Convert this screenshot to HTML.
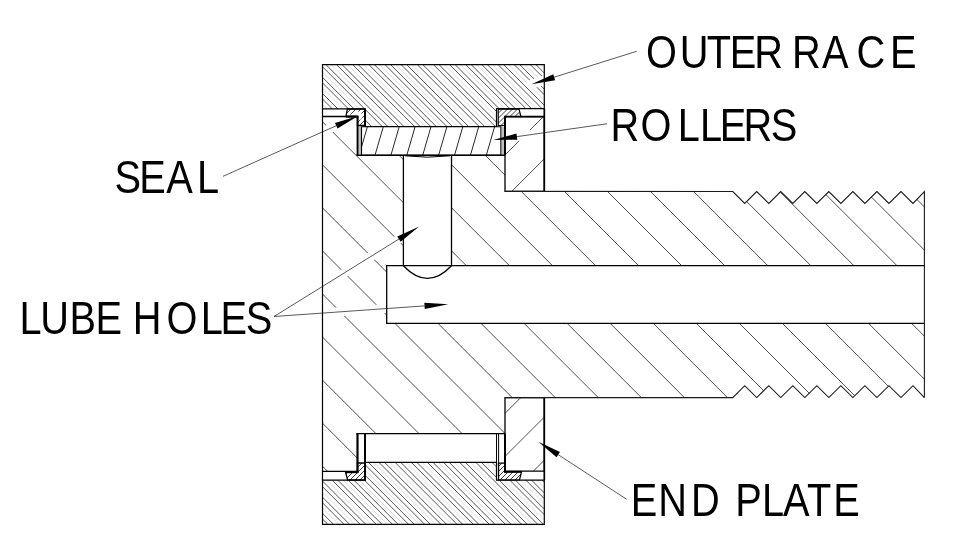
<!DOCTYPE html>
<html><head><meta charset="utf-8"><title>Cam follower section</title>
<style>html,body{margin:0;padding:0;background:#fff}svg{display:block}</style></head>
<body>
<svg width="960" height="554" viewBox="0 0 960 554">
<defs>
<clipPath id="c_race_t"><path d="M322.50,64.70 L544.30,64.70 L544.30,108.70 L496.50,108.70 L496.50,126.50 L365.00,126.50 L365.00,108.90 L322.50,108.90 Z"/></clipPath>
<clipPath id="c_race_b"><path d="M322.50,524.30 L544.30,524.30 L544.30,480.20 L496.50,480.20 L496.50,462.30 L365.00,462.30 L365.00,480.20 L322.50,480.20 Z"/></clipPath>
<clipPath id="c_plate_t"><path d="M505.00,116.60 L544.30,116.60 L544.30,191.30 L505.00,191.30 Z"/></clipPath>
<clipPath id="c_plate_b"><path d="M505.00,397.60 L544.30,397.60 L544.30,471.20 L505.00,471.20 Z"/></clipPath>
<clipPath id="c_roller"><path d="M361.50,126.70 L500.90,126.70 L500.90,155.30 L361.50,155.30 Z"/></clipPath>
<clipPath id="c_seal_tl"><path d="M347.40,109.00 L365.00,109.00 L365.00,125.50 L357.50,125.50 L357.50,116.50 L345.90,116.50 Z"/></clipPath>
<clipPath id="c_seal_tr"><path d="M498.20,109.20 L519.00,109.20 L520.90,116.50 L505.00,116.50 L505.00,125.50 L498.20,125.50 Z"/></clipPath>
<clipPath id="c_seal_bl"><path d="M347.60,480.00 L365.00,480.00 L365.00,463.00 L357.50,463.00 L357.50,472.00 L345.50,472.00 Z"/></clipPath>
<clipPath id="c_seal_br"><path d="M498.50,480.00 L519.50,480.00 L521.50,472.00 L505.00,472.00 L505.00,463.20 L498.50,463.20 Z"/></clipPath>
<clipPath id="c_stud"><path d="M322.50,116.50 L357.50,116.50 L357.50,155.30 L403.40,155.30 L403.40,265.70 L386.70,265.70 L386.70,323.40 L924.40,323.40 L924.40,397.60 L912.98,385.70 L900.94,397.60 L888.94,385.70 L876.90,397.60 L864.90,385.70 L852.86,397.60 L840.86,385.70 L828.82,397.60 L816.82,385.70 L804.78,397.60 L792.78,385.70 L780.74,397.60 L768.74,385.70 L756.70,397.60 L744.70,385.70 L732.80,397.60 L505.00,397.60 L505.00,433.60 L357.50,433.60 L357.50,471.30 L322.50,471.30 Z M451.50,155.30 L505.00,155.30 L505.00,191.30 L732.80,191.50 L744.70,203.40 L756.70,191.50 L768.74,203.40 L780.74,191.50 L792.78,203.40 L804.78,191.50 L816.82,203.40 L828.82,191.50 L840.86,203.40 L852.86,191.50 L864.90,203.40 L876.90,191.50 L888.94,203.40 L900.94,191.50 L912.98,203.40 L924.40,191.50 L924.40,265.70 L451.50,265.70 Z"/></clipPath>
</defs>
<rect width="960" height="554" fill="#fff"/>
<g clip-path="url(#c_race_t)" stroke="#2a2a2a" stroke-width="0.8">
<line x1="320" y1="220.20" x2="550" y2="450.20"/>
<line x1="320" y1="209.60" x2="550" y2="439.60"/>
<line x1="320" y1="204.05" x2="550" y2="434.05"/>
<line x1="320" y1="193.45" x2="550" y2="423.45"/>
<line x1="320" y1="187.90" x2="550" y2="417.90"/>
<line x1="320" y1="177.30" x2="550" y2="407.30"/>
<line x1="320" y1="171.75" x2="550" y2="401.75"/>
<line x1="320" y1="161.15" x2="550" y2="391.15"/>
<line x1="320" y1="155.60" x2="550" y2="385.60"/>
<line x1="320" y1="145.00" x2="550" y2="375.00"/>
<line x1="320" y1="139.45" x2="550" y2="369.45"/>
<line x1="320" y1="128.85" x2="550" y2="358.85"/>
<line x1="320" y1="123.30" x2="550" y2="353.30"/>
<line x1="320" y1="112.70" x2="550" y2="342.70"/>
<line x1="320" y1="107.15" x2="550" y2="337.15"/>
<line x1="320" y1="96.55" x2="550" y2="326.55"/>
<line x1="320" y1="91.00" x2="550" y2="321.00"/>
<line x1="320" y1="80.40" x2="550" y2="310.40"/>
<line x1="320" y1="74.85" x2="550" y2="304.85"/>
<line x1="320" y1="64.25" x2="550" y2="294.25"/>
<line x1="320" y1="58.70" x2="550" y2="288.70"/>
<line x1="320" y1="48.10" x2="550" y2="278.10"/>
<line x1="320" y1="42.55" x2="550" y2="272.55"/>
<line x1="320" y1="31.95" x2="550" y2="261.95"/>
<line x1="320" y1="26.40" x2="550" y2="256.40"/>
<line x1="320" y1="15.80" x2="550" y2="245.80"/>
<line x1="320" y1="10.25" x2="550" y2="240.25"/>
<line x1="320" y1="-0.35" x2="550" y2="229.65"/>
<line x1="320" y1="-5.90" x2="550" y2="224.10"/>
<line x1="320" y1="-16.50" x2="550" y2="213.50"/>
<line x1="320" y1="-22.05" x2="550" y2="207.95"/>
<line x1="320" y1="-32.65" x2="550" y2="197.35"/>
<line x1="320" y1="-38.20" x2="550" y2="191.80"/>
<line x1="320" y1="-48.80" x2="550" y2="181.20"/>
<line x1="320" y1="-54.35" x2="550" y2="175.65"/>
<line x1="320" y1="-64.95" x2="550" y2="165.05"/>
<line x1="320" y1="-70.50" x2="550" y2="159.50"/>
<line x1="320" y1="-81.10" x2="550" y2="148.90"/>
<line x1="320" y1="-86.65" x2="550" y2="143.35"/>
<line x1="320" y1="-97.25" x2="550" y2="132.75"/>
<line x1="320" y1="-102.80" x2="550" y2="127.20"/>
<line x1="320" y1="-113.40" x2="550" y2="116.60"/>
<line x1="320" y1="-118.95" x2="550" y2="111.05"/>
<line x1="320" y1="-129.55" x2="550" y2="100.45"/>
<line x1="320" y1="-135.10" x2="550" y2="94.90"/>
<line x1="320" y1="-145.70" x2="550" y2="84.30"/>
<line x1="320" y1="-151.25" x2="550" y2="78.75"/>
<line x1="320" y1="-161.85" x2="550" y2="68.15"/>
<line x1="320" y1="-167.40" x2="550" y2="62.60"/>
<line x1="320" y1="-178.00" x2="550" y2="52.00"/>
<line x1="320" y1="-183.55" x2="550" y2="46.45"/>
<line x1="320" y1="-194.15" x2="550" y2="35.85"/>
<line x1="320" y1="-199.70" x2="550" y2="30.30"/>
<line x1="320" y1="-210.30" x2="550" y2="19.70"/>
<line x1="320" y1="-215.85" x2="550" y2="14.15"/>
<line x1="320" y1="-226.45" x2="550" y2="3.55"/>
<line x1="320" y1="-232.00" x2="550" y2="-2.00"/>
<line x1="320" y1="-242.60" x2="550" y2="-12.60"/>
<line x1="320" y1="-248.15" x2="550" y2="-18.15"/>
<line x1="320" y1="-258.75" x2="550" y2="-28.75"/>
<line x1="320" y1="-264.30" x2="550" y2="-34.30"/>
<line x1="320" y1="-274.90" x2="550" y2="-44.90"/>
<line x1="320" y1="-280.45" x2="550" y2="-50.45"/>
<line x1="320" y1="-291.05" x2="550" y2="-61.05"/>
<line x1="320" y1="-296.60" x2="550" y2="-66.60"/>
<line x1="320" y1="-307.20" x2="550" y2="-77.20"/>
<line x1="320" y1="-312.75" x2="550" y2="-82.75"/>
<line x1="320" y1="-323.35" x2="550" y2="-93.35"/>
<line x1="320" y1="-328.90" x2="550" y2="-98.90"/>
<line x1="320" y1="-339.50" x2="550" y2="-109.50"/>
<line x1="320" y1="-345.05" x2="550" y2="-115.05"/>
<line x1="320" y1="-355.65" x2="550" y2="-125.65"/>
<line x1="320" y1="-361.20" x2="550" y2="-131.20"/>
<line x1="320" y1="-371.80" x2="550" y2="-141.80"/>
<line x1="320" y1="-377.35" x2="550" y2="-147.35"/>
<line x1="320" y1="-387.95" x2="550" y2="-157.95"/>
<line x1="320" y1="-393.50" x2="550" y2="-163.50"/>
<line x1="320" y1="-404.10" x2="550" y2="-174.10"/>
<line x1="320" y1="-409.65" x2="550" y2="-179.65"/>
<line x1="320" y1="-420.25" x2="550" y2="-190.25"/>
</g>
<g clip-path="url(#c_race_t)" stroke="#c8c8c8" stroke-width="0.6">
<line x1="320" y1="214.90" x2="550" y2="444.90"/>
<line x1="320" y1="198.75" x2="550" y2="428.75"/>
<line x1="320" y1="182.60" x2="550" y2="412.60"/>
<line x1="320" y1="166.45" x2="550" y2="396.45"/>
<line x1="320" y1="150.30" x2="550" y2="380.30"/>
<line x1="320" y1="134.15" x2="550" y2="364.15"/>
<line x1="320" y1="118.00" x2="550" y2="348.00"/>
<line x1="320" y1="101.85" x2="550" y2="331.85"/>
<line x1="320" y1="85.70" x2="550" y2="315.70"/>
<line x1="320" y1="69.55" x2="550" y2="299.55"/>
<line x1="320" y1="53.40" x2="550" y2="283.40"/>
<line x1="320" y1="37.25" x2="550" y2="267.25"/>
<line x1="320" y1="21.10" x2="550" y2="251.10"/>
<line x1="320" y1="4.95" x2="550" y2="234.95"/>
<line x1="320" y1="-11.20" x2="550" y2="218.80"/>
<line x1="320" y1="-27.35" x2="550" y2="202.65"/>
<line x1="320" y1="-43.50" x2="550" y2="186.50"/>
<line x1="320" y1="-59.65" x2="550" y2="170.35"/>
<line x1="320" y1="-75.80" x2="550" y2="154.20"/>
<line x1="320" y1="-91.95" x2="550" y2="138.05"/>
<line x1="320" y1="-108.10" x2="550" y2="121.90"/>
<line x1="320" y1="-124.25" x2="550" y2="105.75"/>
<line x1="320" y1="-140.40" x2="550" y2="89.60"/>
<line x1="320" y1="-156.55" x2="550" y2="73.45"/>
<line x1="320" y1="-172.70" x2="550" y2="57.30"/>
<line x1="320" y1="-188.85" x2="550" y2="41.15"/>
<line x1="320" y1="-205.00" x2="550" y2="25.00"/>
<line x1="320" y1="-221.15" x2="550" y2="8.85"/>
<line x1="320" y1="-237.30" x2="550" y2="-7.30"/>
<line x1="320" y1="-253.45" x2="550" y2="-23.45"/>
<line x1="320" y1="-269.60" x2="550" y2="-39.60"/>
<line x1="320" y1="-285.75" x2="550" y2="-55.75"/>
<line x1="320" y1="-301.90" x2="550" y2="-71.90"/>
<line x1="320" y1="-318.05" x2="550" y2="-88.05"/>
<line x1="320" y1="-334.20" x2="550" y2="-104.20"/>
<line x1="320" y1="-350.35" x2="550" y2="-120.35"/>
<line x1="320" y1="-366.50" x2="550" y2="-136.50"/>
<line x1="320" y1="-382.65" x2="550" y2="-152.65"/>
<line x1="320" y1="-398.80" x2="550" y2="-168.80"/>
<line x1="320" y1="-414.95" x2="550" y2="-184.95"/>
</g>
<g clip-path="url(#c_race_b)" stroke="#2a2a2a" stroke-width="0.8">
<line x1="320" y1="559.30" x2="550" y2="789.30"/>
<line x1="320" y1="548.80" x2="550" y2="778.80"/>
<line x1="320" y1="543.15" x2="550" y2="773.15"/>
<line x1="320" y1="532.65" x2="550" y2="762.65"/>
<line x1="320" y1="527.00" x2="550" y2="757.00"/>
<line x1="320" y1="516.50" x2="550" y2="746.50"/>
<line x1="320" y1="510.85" x2="550" y2="740.85"/>
<line x1="320" y1="500.35" x2="550" y2="730.35"/>
<line x1="320" y1="494.70" x2="550" y2="724.70"/>
<line x1="320" y1="484.20" x2="550" y2="714.20"/>
<line x1="320" y1="478.55" x2="550" y2="708.55"/>
<line x1="320" y1="468.05" x2="550" y2="698.05"/>
<line x1="320" y1="462.40" x2="550" y2="692.40"/>
<line x1="320" y1="451.90" x2="550" y2="681.90"/>
<line x1="320" y1="446.25" x2="550" y2="676.25"/>
<line x1="320" y1="435.75" x2="550" y2="665.75"/>
<line x1="320" y1="430.10" x2="550" y2="660.10"/>
<line x1="320" y1="419.60" x2="550" y2="649.60"/>
<line x1="320" y1="413.95" x2="550" y2="643.95"/>
<line x1="320" y1="403.45" x2="550" y2="633.45"/>
<line x1="320" y1="397.80" x2="550" y2="627.80"/>
<line x1="320" y1="387.30" x2="550" y2="617.30"/>
<line x1="320" y1="381.65" x2="550" y2="611.65"/>
<line x1="320" y1="371.15" x2="550" y2="601.15"/>
<line x1="320" y1="365.50" x2="550" y2="595.50"/>
<line x1="320" y1="355.00" x2="550" y2="585.00"/>
<line x1="320" y1="349.35" x2="550" y2="579.35"/>
<line x1="320" y1="338.85" x2="550" y2="568.85"/>
<line x1="320" y1="333.20" x2="550" y2="563.20"/>
<line x1="320" y1="322.70" x2="550" y2="552.70"/>
<line x1="320" y1="317.05" x2="550" y2="547.05"/>
<line x1="320" y1="306.55" x2="550" y2="536.55"/>
<line x1="320" y1="300.90" x2="550" y2="530.90"/>
<line x1="320" y1="290.40" x2="550" y2="520.40"/>
<line x1="320" y1="284.75" x2="550" y2="514.75"/>
<line x1="320" y1="274.25" x2="550" y2="504.25"/>
<line x1="320" y1="268.60" x2="550" y2="498.60"/>
<line x1="320" y1="258.10" x2="550" y2="488.10"/>
<line x1="320" y1="252.45" x2="550" y2="482.45"/>
<line x1="320" y1="241.95" x2="550" y2="471.95"/>
<line x1="320" y1="236.30" x2="550" y2="466.30"/>
<line x1="320" y1="225.80" x2="550" y2="455.80"/>
<line x1="320" y1="220.15" x2="550" y2="450.15"/>
<line x1="320" y1="209.65" x2="550" y2="439.65"/>
<line x1="320" y1="204.00" x2="550" y2="434.00"/>
<line x1="320" y1="193.50" x2="550" y2="423.50"/>
<line x1="320" y1="187.85" x2="550" y2="417.85"/>
<line x1="320" y1="177.35" x2="550" y2="407.35"/>
<line x1="320" y1="171.70" x2="550" y2="401.70"/>
<line x1="320" y1="161.20" x2="550" y2="391.20"/>
<line x1="320" y1="155.55" x2="550" y2="385.55"/>
<line x1="320" y1="145.05" x2="550" y2="375.05"/>
<line x1="320" y1="139.40" x2="550" y2="369.40"/>
<line x1="320" y1="128.90" x2="550" y2="358.90"/>
<line x1="320" y1="123.25" x2="550" y2="353.25"/>
<line x1="320" y1="112.75" x2="550" y2="342.75"/>
<line x1="320" y1="107.10" x2="550" y2="337.10"/>
<line x1="320" y1="96.60" x2="550" y2="326.60"/>
<line x1="320" y1="90.95" x2="550" y2="320.95"/>
<line x1="320" y1="80.45" x2="550" y2="310.45"/>
<line x1="320" y1="74.80" x2="550" y2="304.80"/>
<line x1="320" y1="64.30" x2="550" y2="294.30"/>
<line x1="320" y1="58.65" x2="550" y2="288.65"/>
<line x1="320" y1="48.15" x2="550" y2="278.15"/>
<line x1="320" y1="42.50" x2="550" y2="272.50"/>
<line x1="320" y1="32.00" x2="550" y2="262.00"/>
<line x1="320" y1="26.35" x2="550" y2="256.35"/>
<line x1="320" y1="15.85" x2="550" y2="245.85"/>
<line x1="320" y1="10.20" x2="550" y2="240.20"/>
<line x1="320" y1="-0.30" x2="550" y2="229.70"/>
<line x1="320" y1="-5.95" x2="550" y2="224.05"/>
<line x1="320" y1="-16.45" x2="550" y2="213.55"/>
<line x1="320" y1="-22.10" x2="550" y2="207.90"/>
<line x1="320" y1="-32.60" x2="550" y2="197.40"/>
<line x1="320" y1="-38.25" x2="550" y2="191.75"/>
<line x1="320" y1="-48.75" x2="550" y2="181.25"/>
<line x1="320" y1="-54.40" x2="550" y2="175.60"/>
<line x1="320" y1="-64.90" x2="550" y2="165.10"/>
<line x1="320" y1="-70.55" x2="550" y2="159.45"/>
<line x1="320" y1="-81.05" x2="550" y2="148.95"/>
</g>
<g clip-path="url(#c_race_b)" stroke="#c8c8c8" stroke-width="0.6">
<line x1="320" y1="554.00" x2="550" y2="784.00"/>
<line x1="320" y1="537.85" x2="550" y2="767.85"/>
<line x1="320" y1="521.70" x2="550" y2="751.70"/>
<line x1="320" y1="505.55" x2="550" y2="735.55"/>
<line x1="320" y1="489.40" x2="550" y2="719.40"/>
<line x1="320" y1="473.25" x2="550" y2="703.25"/>
<line x1="320" y1="457.10" x2="550" y2="687.10"/>
<line x1="320" y1="440.95" x2="550" y2="670.95"/>
<line x1="320" y1="424.80" x2="550" y2="654.80"/>
<line x1="320" y1="408.65" x2="550" y2="638.65"/>
<line x1="320" y1="392.50" x2="550" y2="622.50"/>
<line x1="320" y1="376.35" x2="550" y2="606.35"/>
<line x1="320" y1="360.20" x2="550" y2="590.20"/>
<line x1="320" y1="344.05" x2="550" y2="574.05"/>
<line x1="320" y1="327.90" x2="550" y2="557.90"/>
<line x1="320" y1="311.75" x2="550" y2="541.75"/>
<line x1="320" y1="295.60" x2="550" y2="525.60"/>
<line x1="320" y1="279.45" x2="550" y2="509.45"/>
<line x1="320" y1="263.30" x2="550" y2="493.30"/>
<line x1="320" y1="247.15" x2="550" y2="477.15"/>
<line x1="320" y1="231.00" x2="550" y2="461.00"/>
<line x1="320" y1="214.85" x2="550" y2="444.85"/>
<line x1="320" y1="198.70" x2="550" y2="428.70"/>
<line x1="320" y1="182.55" x2="550" y2="412.55"/>
<line x1="320" y1="166.40" x2="550" y2="396.40"/>
<line x1="320" y1="150.25" x2="550" y2="380.25"/>
<line x1="320" y1="134.10" x2="550" y2="364.10"/>
<line x1="320" y1="117.95" x2="550" y2="347.95"/>
<line x1="320" y1="101.80" x2="550" y2="331.80"/>
<line x1="320" y1="85.65" x2="550" y2="315.65"/>
<line x1="320" y1="69.50" x2="550" y2="299.50"/>
<line x1="320" y1="53.35" x2="550" y2="283.35"/>
<line x1="320" y1="37.20" x2="550" y2="267.20"/>
<line x1="320" y1="21.05" x2="550" y2="251.05"/>
<line x1="320" y1="4.90" x2="550" y2="234.90"/>
<line x1="320" y1="-11.25" x2="550" y2="218.75"/>
<line x1="320" y1="-27.40" x2="550" y2="202.60"/>
<line x1="320" y1="-43.55" x2="550" y2="186.45"/>
<line x1="320" y1="-59.70" x2="550" y2="170.30"/>
<line x1="320" y1="-75.85" x2="550" y2="154.15"/>
</g>
<g clip-path="url(#c_stud)" stroke="#3a3a3a" stroke-width="0.9">
<line x1="320" y1="-741.90" x2="930" y2="-131.90"/>
<line x1="320" y1="-698.84" x2="930" y2="-88.84"/>
<line x1="320" y1="-655.78" x2="930" y2="-45.78"/>
<line x1="320" y1="-612.72" x2="930" y2="-2.72"/>
<line x1="320" y1="-569.66" x2="930" y2="40.34"/>
<line x1="320" y1="-526.60" x2="930" y2="83.40"/>
<line x1="320" y1="-483.54" x2="930" y2="126.46"/>
<line x1="320" y1="-440.48" x2="930" y2="169.52"/>
<line x1="320" y1="-397.42" x2="930" y2="212.58"/>
<line x1="320" y1="-354.36" x2="930" y2="255.64"/>
<line x1="320" y1="-311.30" x2="930" y2="298.70"/>
<line x1="320" y1="-268.24" x2="930" y2="341.76"/>
<line x1="320" y1="-225.18" x2="930" y2="384.82"/>
<line x1="320" y1="-182.12" x2="930" y2="427.88"/>
<line x1="320" y1="-139.06" x2="930" y2="470.94"/>
<line x1="320" y1="-96.00" x2="930" y2="514.00"/>
<line x1="320" y1="-52.94" x2="930" y2="557.06"/>
<line x1="320" y1="-9.88" x2="930" y2="600.12"/>
<line x1="320" y1="33.18" x2="930" y2="643.18"/>
<line x1="320" y1="76.24" x2="930" y2="686.24"/>
<line x1="320" y1="119.30" x2="930" y2="729.30"/>
<line x1="320" y1="162.36" x2="930" y2="772.36"/>
<line x1="320" y1="205.42" x2="930" y2="815.42"/>
<line x1="320" y1="248.48" x2="930" y2="858.48"/>
<line x1="320" y1="291.54" x2="930" y2="901.54"/>
<line x1="320" y1="334.60" x2="930" y2="944.60"/>
<line x1="320" y1="377.66" x2="930" y2="987.66"/>
<line x1="320" y1="420.72" x2="930" y2="1030.72"/>
<line x1="320" y1="463.78" x2="930" y2="1073.78"/>
<line x1="320" y1="506.84" x2="930" y2="1116.84"/>
</g>
<g clip-path="url(#c_plate_t)" stroke="#3a3a3a" stroke-width="0.9">
<line x1="500" y1="73.88" x2="550" y2="23.88"/>
<line x1="500" y1="116.94" x2="550" y2="66.94"/>
<line x1="500" y1="160.00" x2="550" y2="110.00"/>
<line x1="500" y1="203.06" x2="550" y2="153.06"/>
<line x1="500" y1="246.12" x2="550" y2="196.12"/>
<line x1="500" y1="289.18" x2="550" y2="239.18"/>
<line x1="500" y1="332.24" x2="550" y2="282.24"/>
<line x1="500" y1="375.30" x2="550" y2="325.30"/>
<line x1="500" y1="418.36" x2="550" y2="368.36"/>
<line x1="500" y1="461.42" x2="550" y2="411.42"/>
<line x1="500" y1="504.48" x2="550" y2="454.48"/>
<line x1="500" y1="547.54" x2="550" y2="497.54"/>
<line x1="500" y1="590.60" x2="550" y2="540.60"/>
<line x1="500" y1="633.66" x2="550" y2="583.66"/>
</g>
<g clip-path="url(#c_plate_b)" stroke="#3a3a3a" stroke-width="0.9">
<line x1="500" y1="73.88" x2="550" y2="23.88"/>
<line x1="500" y1="116.94" x2="550" y2="66.94"/>
<line x1="500" y1="160.00" x2="550" y2="110.00"/>
<line x1="500" y1="203.06" x2="550" y2="153.06"/>
<line x1="500" y1="246.12" x2="550" y2="196.12"/>
<line x1="500" y1="289.18" x2="550" y2="239.18"/>
<line x1="500" y1="332.24" x2="550" y2="282.24"/>
<line x1="500" y1="375.30" x2="550" y2="325.30"/>
<line x1="500" y1="418.36" x2="550" y2="368.36"/>
<line x1="500" y1="461.42" x2="550" y2="411.42"/>
<line x1="500" y1="504.48" x2="550" y2="454.48"/>
<line x1="500" y1="547.54" x2="550" y2="497.54"/>
<line x1="500" y1="590.60" x2="550" y2="540.60"/>
<line x1="500" y1="633.66" x2="550" y2="583.66"/>
</g>
<g clip-path="url(#c_seal_tl)" stroke="#2a2a2a" stroke-width="0.9">
<line x1="340" y1="120.00" x2="370" y2="90.00"/>
<line x1="340" y1="125.00" x2="370" y2="95.00"/>
<line x1="340" y1="130.00" x2="370" y2="100.00"/>
<line x1="340" y1="135.00" x2="370" y2="105.00"/>
<line x1="340" y1="140.00" x2="370" y2="110.00"/>
<line x1="340" y1="145.00" x2="370" y2="115.00"/>
<line x1="340" y1="150.00" x2="370" y2="120.00"/>
<line x1="340" y1="155.00" x2="370" y2="125.00"/>
<line x1="340" y1="160.00" x2="370" y2="130.00"/>
<line x1="340" y1="165.00" x2="370" y2="135.00"/>
<line x1="340" y1="170.00" x2="370" y2="140.00"/>
<line x1="340" y1="175.00" x2="370" y2="145.00"/>
</g>
<g clip-path="url(#c_seal_tr)" stroke="#2a2a2a" stroke-width="0.9">
<line x1="495" y1="111.50" x2="525" y2="81.50"/>
<line x1="495" y1="116.50" x2="525" y2="86.50"/>
<line x1="495" y1="121.50" x2="525" y2="91.50"/>
<line x1="495" y1="126.50" x2="525" y2="96.50"/>
<line x1="495" y1="131.50" x2="525" y2="101.50"/>
<line x1="495" y1="136.50" x2="525" y2="106.50"/>
<line x1="495" y1="141.50" x2="525" y2="111.50"/>
<line x1="495" y1="146.50" x2="525" y2="116.50"/>
<line x1="495" y1="151.50" x2="525" y2="121.50"/>
<line x1="495" y1="156.50" x2="525" y2="126.50"/>
<line x1="495" y1="161.50" x2="525" y2="131.50"/>
<line x1="495" y1="166.50" x2="525" y2="136.50"/>
</g>
<g clip-path="url(#c_seal_bl)" stroke="#2a2a2a" stroke-width="0.9">
<line x1="340" y1="470.00" x2="370" y2="440.00"/>
<line x1="340" y1="475.00" x2="370" y2="445.00"/>
<line x1="340" y1="480.00" x2="370" y2="450.00"/>
<line x1="340" y1="485.00" x2="370" y2="455.00"/>
<line x1="340" y1="490.00" x2="370" y2="460.00"/>
<line x1="340" y1="495.00" x2="370" y2="465.00"/>
<line x1="340" y1="500.00" x2="370" y2="470.00"/>
<line x1="340" y1="505.00" x2="370" y2="475.00"/>
<line x1="340" y1="510.00" x2="370" y2="480.00"/>
<line x1="340" y1="515.00" x2="370" y2="485.00"/>
<line x1="340" y1="520.00" x2="370" y2="490.00"/>
<line x1="340" y1="525.00" x2="370" y2="495.00"/>
<line x1="340" y1="530.00" x2="370" y2="500.00"/>
<line x1="340" y1="535.00" x2="370" y2="505.00"/>
</g>
<g clip-path="url(#c_seal_br)" stroke="#2a2a2a" stroke-width="0.9">
<line x1="495" y1="465.00" x2="525" y2="435.00"/>
<line x1="495" y1="470.00" x2="525" y2="440.00"/>
<line x1="495" y1="475.00" x2="525" y2="445.00"/>
<line x1="495" y1="480.00" x2="525" y2="450.00"/>
<line x1="495" y1="485.00" x2="525" y2="455.00"/>
<line x1="495" y1="490.00" x2="525" y2="460.00"/>
<line x1="495" y1="495.00" x2="525" y2="465.00"/>
<line x1="495" y1="500.00" x2="525" y2="470.00"/>
<line x1="495" y1="505.00" x2="525" y2="475.00"/>
<line x1="495" y1="510.00" x2="525" y2="480.00"/>
<line x1="495" y1="515.00" x2="525" y2="485.00"/>
<line x1="495" y1="520.00" x2="525" y2="490.00"/>
<line x1="495" y1="525.00" x2="525" y2="495.00"/>
<line x1="495" y1="530.00" x2="525" y2="500.00"/>
</g>
<line x1="531.50" y1="84.30" x2="636.75" y2="51.25" stroke="#fff" stroke-width="9" stroke-linecap="round"/>
<line x1="493.30" y1="140.00" x2="607.00" y2="123.75" stroke="#fff" stroke-width="9" stroke-linecap="round"/>
<line x1="358.00" y1="116.00" x2="223.00" y2="176.30" stroke="#fff" stroke-width="9" stroke-linecap="round"/>
<line x1="419.20" y1="226.50" x2="274.00" y2="316.50" stroke="#fff" stroke-width="9" stroke-linecap="round"/>
<line x1="448.30" y1="304.20" x2="274.00" y2="316.50" stroke="#fff" stroke-width="9" stroke-linecap="round"/>
<line x1="538.30" y1="441.70" x2="626.70" y2="499.30" stroke="#fff" stroke-width="9" stroke-linecap="round"/>
<g clip-path="url(#c_roller)" stroke="#111" stroke-width="0.9">
<line x1="369.34" y1="120" x2="357.74" y2="160"/>
<line x1="385.24" y1="120" x2="373.64" y2="160"/>
<line x1="401.14" y1="120" x2="389.54" y2="160"/>
<line x1="417.04" y1="120" x2="405.44" y2="160"/>
<line x1="432.94" y1="120" x2="421.34" y2="160"/>
<line x1="448.84" y1="120" x2="437.24" y2="160"/>
<line x1="464.74" y1="120" x2="453.14" y2="160"/>
<line x1="480.64" y1="120" x2="469.04" y2="160"/>
<line x1="496.54" y1="120" x2="484.94" y2="160"/>
<line x1="512.44" y1="120" x2="500.84" y2="160"/>
<line x1="528.34" y1="120" x2="516.74" y2="160"/>
</g>
<path d="M322.50,64.70 L544.30,64.70 L544.30,108.70 L496.50,108.70 L496.50,126.50 L365.00,126.50 L365.00,108.90 L322.50,108.90 Z" stroke="#000" stroke-width="1.2" fill="none" stroke-linejoin="miter" />
<path d="M322.50,524.30 L544.30,524.30 L544.30,480.20 L496.50,480.20 L496.50,462.30 L365.00,462.30 L365.00,480.20 L322.50,480.20 Z" stroke="#000" stroke-width="1.2" fill="none" stroke-linejoin="miter" />
<path d="M322.50,108.90 L322.50,480.20" stroke="#000" stroke-width="1.2" fill="none" stroke-linejoin="miter" />
<path d="M322.50,116.50 L357.50,116.50" stroke="#000" stroke-width="1.3" fill="none" stroke-linejoin="miter" />
<path d="M357.60,116.50 L357.60,155.30" stroke="#000" stroke-width="2.0" fill="none" stroke-linejoin="miter" />
<path d="M356.40,155.30 L505.00,155.30" stroke="#000" stroke-width="1.4" fill="none" stroke-linejoin="miter" />
<path d="M322.50,471.30 L357.50,471.30" stroke="#000" stroke-width="1.3" fill="none" stroke-linejoin="miter" />
<path d="M357.50,472.50 L357.50,433.60" stroke="#000" stroke-width="2.2" fill="none" stroke-linejoin="miter" />
<path d="M356.40,433.60 L505.00,433.60" stroke="#000" stroke-width="1.4" fill="none" stroke-linejoin="miter" />
<line x1="360.00" y1="126.50" x2="360.00" y2="155.30" stroke="#333" stroke-width="0.6" />
<line x1="503.00" y1="126.50" x2="503.00" y2="155.30" stroke="#333" stroke-width="0.6" />
<path d="M361.50,126.70 L500.90,126.70 L500.90,155.30 L361.50,155.30 Z" stroke="#000" stroke-width="1.15" fill="none" stroke-linejoin="miter" />
<path d="M347.40,109.00 L365.00,109.00 L365.00,125.50 L357.50,125.50 L357.50,116.50 L345.90,116.50 Z" stroke="#000" stroke-width="1.3" fill="none" stroke-linejoin="miter" />
<line x1="365.00" y1="108.90" x2="365.00" y2="126.50" stroke="#000" stroke-width="2.0" />
<line x1="346.00" y1="116.60" x2="358.50" y2="116.60" stroke="#000" stroke-width="2.0" />
<path d="M498.20,109.20 L519.00,109.20 L520.90,116.50 L505.00,116.50 L505.00,125.50 L498.20,125.50 Z" stroke="#000" stroke-width="1.2" fill="none" stroke-linejoin="miter" />
<line x1="496.50" y1="108.70" x2="496.50" y2="126.50" stroke="#000" stroke-width="1.0" />
<path d="M347.60,480.00 L365.00,480.00 L365.00,463.00 L357.50,463.00 L357.50,472.00 L345.50,472.00 Z" stroke="#000" stroke-width="1.3" fill="none" stroke-linejoin="miter" />
<line x1="365.00" y1="433.60" x2="365.00" y2="480.80" stroke="#000" stroke-width="2.0" />
<line x1="345.50" y1="472.20" x2="358.50" y2="472.20" stroke="#000" stroke-width="2.0" />
<path d="M498.50,480.00 L519.50,480.00 L521.50,472.00 L505.00,472.00 L505.00,463.20 L498.50,463.20 Z" stroke="#000" stroke-width="1.2" fill="none" stroke-linejoin="miter" />
<line x1="496.50" y1="433.60" x2="496.50" y2="480.20" stroke="#000" stroke-width="1.0" />
<line x1="498.60" y1="433.60" x2="498.60" y2="480.20" stroke="#000" stroke-width="1.0" />
<path d="M505.00,116.60 L544.30,116.60 L544.30,191.30 L505.00,191.30 Z" stroke="#000" stroke-width="1.3" fill="none" stroke-linejoin="miter" />
<line x1="505.00" y1="116.60" x2="505.00" y2="155.30" stroke="#000" stroke-width="2.0" />
<line x1="544.30" y1="108.70" x2="544.30" y2="191.30" stroke="#000" stroke-width="1.7" />
<line x1="504.00" y1="116.60" x2="544.30" y2="116.60" stroke="#000" stroke-width="1.8" />
<path d="M505.00,397.60 L544.30,397.60 L544.30,471.20 L505.00,471.20 Z" stroke="#000" stroke-width="1.3" fill="none" stroke-linejoin="miter" />
<line x1="505.00" y1="433.60" x2="505.00" y2="472.50" stroke="#000" stroke-width="2.0" />
<line x1="544.30" y1="397.60" x2="544.30" y2="480.20" stroke="#000" stroke-width="1.7" />
<line x1="504.00" y1="471.80" x2="522.00" y2="471.80" stroke="#000" stroke-width="1.8" />
<path d="M505.00,191.40 L732.80,191.50 L744.70,203.40 L756.70,191.50 L768.74,203.40 L780.74,191.50 L792.78,203.40 L804.78,191.50 L816.82,203.40 L828.82,191.50 L840.86,203.40 L852.86,191.50 L864.90,203.40 L876.90,191.50 L888.94,203.40 L900.94,191.50 L912.98,203.40 L924.40,191.50 L924.40,397.60" stroke="#1a1a1a" stroke-width="1.1" fill="none" stroke-linejoin="miter" />
<path d="M505.00,397.60 L732.80,397.60 L744.70,385.70 L756.70,397.60 L768.74,385.70 L780.74,397.60 L792.78,385.70 L804.78,397.60 L816.82,385.70 L828.82,397.60 L840.86,385.70 L852.86,397.60 L864.90,385.70 L876.90,397.60 L888.94,385.70 L900.94,397.60 L912.98,385.70 L924.40,397.60" stroke="#1a1a1a" stroke-width="1.1" fill="none" stroke-linejoin="miter" />
<path d="M924.40,265.70 L386.70,265.70 L386.70,323.40 L924.40,323.40" stroke="#000" stroke-width="1.3" fill="none" stroke-linejoin="miter" />
<line x1="403.40" y1="155.30" x2="403.40" y2="265.70" stroke="#000" stroke-width="1.3" />
<line x1="451.50" y1="155.30" x2="451.50" y2="265.70" stroke="#000" stroke-width="1.3" />
<path d="M403.4,265.7 Q427.4,291 451.5,265.7" stroke="#000" stroke-width="1.3" fill="none"/>
<path d="M405,155.8 Q427.4,158.6 450,155.8" stroke="#000" stroke-width="1.0" fill="none"/>
<line x1="554.21" y1="77.17" x2="636.75" y2="51.25" stroke="#222" stroke-width="0.75"/>
<path d="M531.50,84.30 L555.14,80.13 L553.28,74.21 Z" fill="#000"/>
<line x1="516.86" y1="136.63" x2="607.00" y2="123.75" stroke="#222" stroke-width="0.75"/>
<path d="M493.30,140.00 L517.30,139.70 L516.42,133.56 Z" fill="#000"/>
<line x1="336.27" y1="125.71" x2="223.00" y2="176.30" stroke="#222" stroke-width="0.75"/>
<path d="M358.00,116.00 L335.00,122.88 L337.53,128.54 Z" fill="#000"/>
<line x1="398.97" y1="239.04" x2="274.00" y2="316.50" stroke="#222" stroke-width="0.75"/>
<path d="M419.20,226.50 L397.34,236.40 L400.60,241.67 Z" fill="#000"/>
<line x1="424.56" y1="305.88" x2="274.00" y2="316.50" stroke="#222" stroke-width="0.75"/>
<path d="M448.30,304.20 L424.34,302.78 L424.78,308.97 Z" fill="#000"/>
<line x1="558.24" y1="454.69" x2="626.70" y2="499.30" stroke="#222" stroke-width="0.75"/>
<path d="M538.30,441.70 L556.55,457.29 L559.93,452.10 Z" fill="#000"/>
<g font-family="'Liberation Sans', sans-serif" fill="#000" opacity="0.999">
<text transform="scale(0.8500,1)" x="759.87 799.64 831.36 858.61 887.21" y="68.2" font-size="46.8">OUTER</text>
<text transform="scale(0.8500,1)" x="931.92 966.98 1007.80 1046.97" y="68.2" font-size="46.8">RACE</text>
<text transform="scale(0.8500,1)" x="718.16 753.63 797.24 823.49 846.71 874.66 906.75" y="141.0" font-size="46.8">ROLLERS</text>
<text transform="scale(0.8500,1)" x="134.82 163.89 195.59 231.80" y="193.2" font-size="46.8">SEAL</text>
<text transform="scale(0.8500,1)" x="22.83 47.34 81.82 112.47" y="333.8" font-size="46.8">LUBE</text>
<text transform="scale(0.8500,1)" x="156.09 195.75 236.32 259.54 289.21" y="333.8" font-size="46.8">HOLES</text>
<text transform="scale(0.8500,1)" x="742.03 774.27 812.85" y="516.4" font-size="46.8">END</text>
<text transform="scale(0.8500,1)" x="864.88 896.47 921.11 949.41 980.41" y="516.4" font-size="46.8">PLATE</text>
</g>
</svg>
</body></html>
